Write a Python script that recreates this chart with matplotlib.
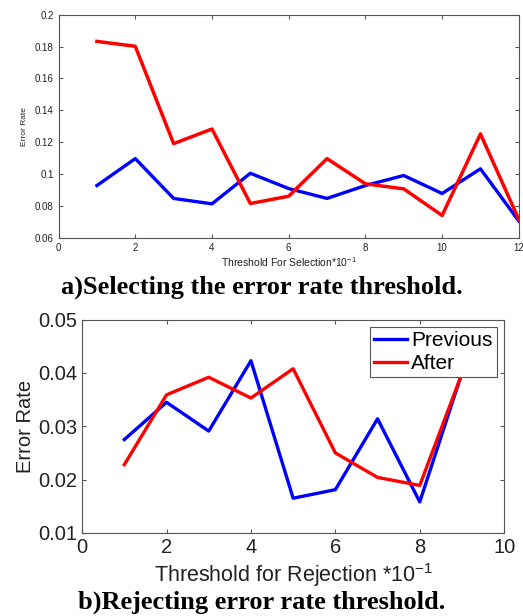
import matplotlib
matplotlib.use("Agg")
from matplotlib import pyplot as plt

plt.rcParams['font.family'] = 'Liberation Sans'
plt.rcParams['mathtext.fontset'] = 'custom'
plt.rcParams['mathtext.rm'] = 'Liberation Sans'

# a) selection threshold
sel_x = [1, 2, 3, 4, 5, 6, 7, 8, 9, 10, 11, 12]
sel_previous = [0.0928, 0.1097, 0.0847, 0.0813, 0.1005, 0.0909, 0.0847, 0.0928, 0.0991, 0.0878, 0.1033, 0.0705]
sel_after = [0.1833, 0.1802, 0.1191, 0.1283, 0.0815, 0.0861, 0.1097, 0.0939, 0.0907, 0.0740, 0.1252, 0.0715]

# b) rejection threshold
rej_x = [1, 2, 3, 4, 5, 6, 7, 8, 9]
rej_previous = [0.0275, 0.0345, 0.0291, 0.0423, 0.0165, 0.0181, 0.0314, 0.0158, 0.0400]
rej_after = [0.0228, 0.0359, 0.0392, 0.0353, 0.0408, 0.0250, 0.0204, 0.0189, 0.0399]

fig = plt.figure(figsize=(5.23, 6.16), dpi=100)

def style_axes(ax, size):
    for s in ax.spines.values():
        s.set_color('#555555')
        s.set_linewidth(0.8)
    ax.tick_params(direction='in', top=True, right=True, labelsize=size,
                   colors='#555555', labelcolor='#222222', length=3)

# top panel
ax1 = fig.add_axes([0.112, 0.614, 0.880, 0.362])
ax1.plot(sel_x, sel_previous, color='#0000ff', lw=2.4)
ax1.plot(sel_x, sel_after, color='#ff0000', lw=2.5)
ax1.set_xlim(0, 12)
ax1.set_ylim(0.06, 0.2)
ax1.set_xticks(range(0, 13, 2))
ax1.set_yticks([0.06, 0.08, 0.1, 0.12, 0.14, 0.16, 0.18, 0.2])
ax1.set_yticklabels(['0.06', '0.08', '0.1', '0.12', '0.14', '0.16', '0.18', '0.2'])
style_axes(ax1, 7)
ax1.set_xlabel('Threshold For Selection*10$^{-1}$', fontsize=7.5, color='#222222', labelpad=2)
ax1.set_ylabel('Error Rate', fontsize=6, color='#222222', labelpad=5)

fig.text(0.5, 1 - 287 / 616, 'a)Selecting the error rate threshold.', ha='center', va='center',
         fontsize=19, fontweight='bold', family='Liberation Serif')

# bottom panel
ax2 = fig.add_axes([0.157, 0.135, 0.807, 0.346])
ax2.plot(rej_x, rej_previous, color='#0000ff', lw=2.4, label='Previous')
ax2.plot(rej_x, rej_after, color='#ff0000', lw=2.4, label='After')
ax2.set_xlim(0, 10)
ax2.set_ylim(0.01, 0.05)
ax2.set_xticks(range(0, 11, 2))
ax2.set_yticks([0.01, 0.02, 0.03, 0.04, 0.05])
ax2.set_yticklabels(['0.01', '0.02', '0.03', '0.04', '0.05'])
style_axes(ax2, 14.5)
ax2.set_xlabel('Threshold for Rejection *10$^{-1}$', fontsize=15.5, color='#222222', labelpad=3)
ax2.set_ylabel('Error Rate', fontsize=14.5, color='#222222', labelpad=2)
leg = ax2.legend(loc='upper right', fontsize=15, fancybox=False, framealpha=1,
                 edgecolor='#555555', handlelength=1.6, borderpad=0.2,
                 labelspacing=0.2, handletextpad=0.2, borderaxespad=0.35)
leg.get_frame().set_linewidth(0.8)

fig.text(0.5, 1 - 602 / 616, 'b)Rejecting error rate threshold.', ha='center', va='center',
         fontsize=19, fontweight='bold', family='Liberation Serif')

fig.savefig('out.png', dpi=100)
